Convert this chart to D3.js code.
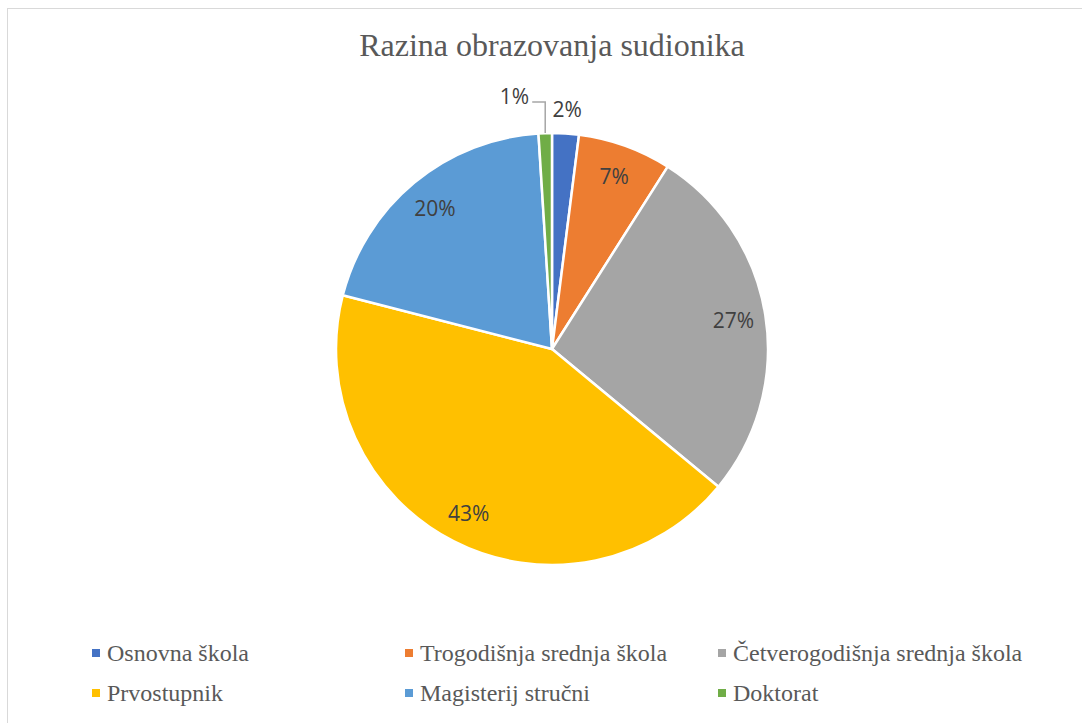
<!DOCTYPE html>
<html>
<head>
<meta charset="utf-8">
<script src="https://cdn.jsdelivr.net/npm/d3@7"></script>
<style>
  body { margin: 0; background: #fff; }
  svg { display: block; }
</style>
</head>
<body>
<svg id="pie"></svg>
<script>
const categories = ["Osnovna škola", "Trogodišnja srednja škola", "Četverogodišnja srednja škola", "Prvostupnik", "Magisterij stručni", "Doktorat"];
const values = [2, 7, 27, 43, 20, 1];
const colors = ["#4472C4", "#ED7D31", "#A5A5A5", "#FFC000", "#5B9BD5", "#70AD47"];
const title = "Razina obrazovanja sudionika";

const W = 1082, H = 723;
const cx = 552, cy = 349, R = 216;

const svg = d3.select("#pie")
  .attr("width", W)
  .attr("height", H);

// chart frame (right/bottom edges are cut off in the original)
svg.append("rect")
  .attr("x", 7.5).attr("y", 8.5)
  .attr("width", W).attr("height", H)
  .attr("fill", "#fff")
  .attr("stroke", "#d9d9d9")
  .attr("stroke-width", 1);

svg.append("text")
  .attr("x", cx).attr("y", 56)
  .attr("text-anchor", "middle")
  .style("font-family", "'Liberation Serif', 'Times New Roman', serif")
  .style("font-size", "32px")
  .style("fill", "#595959")
  .text(title);

const data = categories.map((c, i) => ({ name: c, value: values[i], color: colors[i] }));
const total = d3.sum(values);

const pie = d3.pie().value(d => d.value).sort(null);
const arcs = pie(data);

const arc = d3.arc().innerRadius(0).outerRadius(R);
const labelArc = d3.arc().innerRadius(R * 0.85).outerRadius(R * 0.85);

const g = svg.append("g").attr("transform", `translate(${cx},${cy})`);

g.selectAll("path")
  .data(arcs)
  .enter()
  .append("path")
  .attr("d", arc)
  .attr("fill", d => d.data.color)
  .attr("stroke", "#fff")
  .attr("stroke-width", 2.5)
  .attr("stroke-linejoin", "round");

const pct = d => Math.round(d.data.value / total * 100) + "%";
const mid = d => (d.startAngle + d.endAngle) / 2;

const labelStyle = sel => sel
  .style("font-family", "'Open Sans', 'DejaVu Sans', sans-serif")
  .style("font-size", "21px")
  .style("fill", "#404040")
  .attr("dominant-baseline", "central");

arcs.forEach(d => {
  const a = mid(d);
  if (d.data.value >= 5) {
    const [x, y] = labelArc.centroid(d);
    g.append("text")
      .attr("x", x).attr("y", y)
      .attr("text-anchor", "middle")
      .call(labelStyle)
      .text(pct(d));
  } else if (d.data.value >= 2) {
    const r = R + 24;
    g.append("text")
      .attr("x", r * Math.sin(a)).attr("y", -r * Math.cos(a))
      .attr("text-anchor", "middle")
      .call(labelStyle)
      .text(pct(d));
  } else {
    // tiny slice: label pulled out with an elbow leader line
    const x0 = R * Math.sin(a), y0 = -R * Math.cos(a);
    const yE = -(R + 31);
    const xE = x0 - 13;
    g.append("polyline")
      .attr("points", `${x0},${y0} ${x0},${yE} ${xE},${yE}`)
      .attr("fill", "none")
      .attr("stroke", "#a6a6a6")
      .attr("stroke-width", 1.5);
    g.append("text")
      .attr("x", xE - 3).attr("y", yE - 6)
      .attr("text-anchor", "end")
      .call(labelStyle)
      .text(pct(d));
  }
});

// legend: 3 columns, 2 rows
const legendX = d3.scaleBand().domain([0, 1, 2]).range([92, 92 + 313 * 3]);
const legendY = d3.scaleBand().domain([0, 1]).range([633, 713]);

const item = svg.selectAll(".legend")
  .data(data)
  .enter()
  .append("g")
  .attr("class", "legend")
  .attr("transform", (d, i) => `translate(${legendX(i % 3)},${legendY(Math.floor(i / 3)) + legendY.bandwidth() / 2})`);

item.append("rect")
  .attr("x", 0).attr("y", -4)
  .attr("width", 8).attr("height", 8)
  .attr("fill", d => d.color);

item.append("text")
  .attr("x", 15).attr("y", 8)
  .style("font-family", "'Liberation Serif', 'Times New Roman', serif")
  .style("font-size", "24px")
  .style("fill", "#595959")
  .text(d => d.name);
</script>
</body>
</html>
